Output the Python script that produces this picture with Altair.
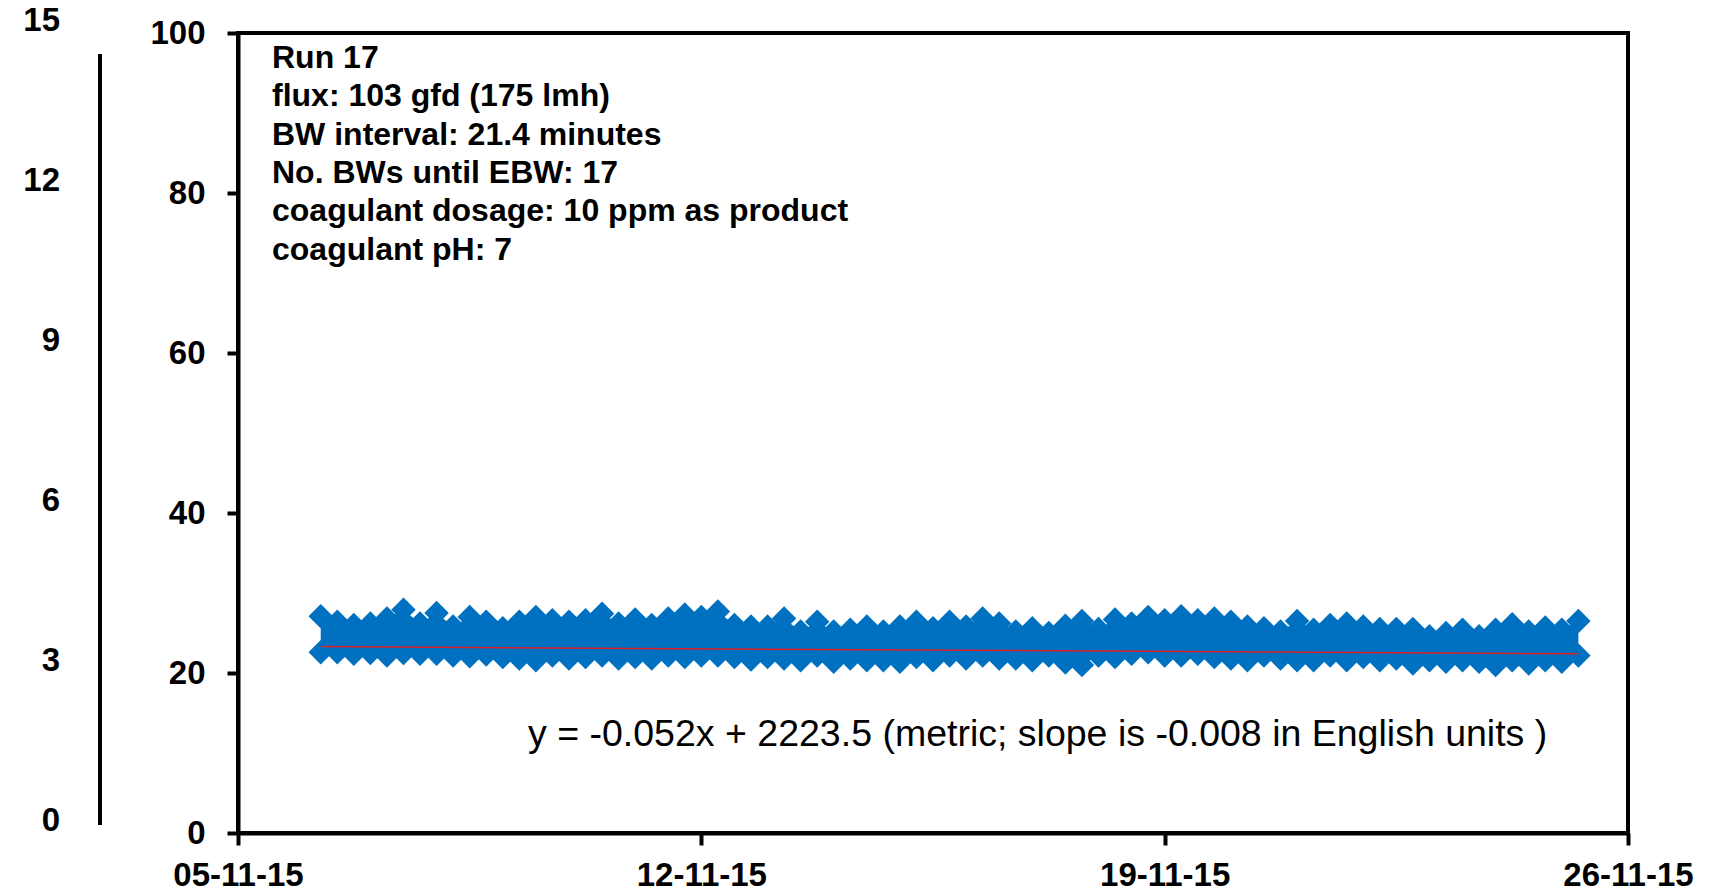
import altair as alt
import pandas as pd

# ---------------- data ----------------
start_time = "2015-11-06 06:00"          # first plotted sample (6-hour steps)
step = "6h"
upper_values = [
    27.1, 26.4, 26.0, 26.2, 26.8, 27.9, 26.2, 27.5, 25.8, 27.0,
    26.4, 25.6, 26.4, 27.0, 26.6, 26.4, 26.6, 27.4, 26.2, 26.7,
    26.0, 26.8, 27.3, 27.0, 27.7, 26.0, 25.8, 25.8, 26.8, 25.2,
    26.4, 25.2, 25.4, 25.8, 25.2, 25.8, 26.4, 25.6, 26.4, 25.8,
    26.8, 26.2, 25.2, 25.6, 25.0, 25.9, 26.5, 25.5, 26.7, 26.2,
    27.0, 26.6, 27.1, 26.6, 26.8, 26.4, 25.8, 25.6, 25.2, 26.5,
    25.4, 26.0, 26.2, 25.8, 25.5, 25.5, 25.5, 24.6, 25.0, 25.4,
    24.6, 25.4, 26.1, 25.2, 25.7, 25.4, 26.5,
]
lower_values = [
    22.6, 22.6, 22.4, 22.5, 22.2, 22.5, 22.4, 22.4, 22.2, 22.1,
    22.3, 22.0, 21.8, 21.6, 22.2, 21.8, 22.0, 22.2, 21.8, 22.0,
    21.8, 22.2, 22.0, 22.2, 22.2, 22.0, 21.7, 22.0, 21.8, 21.6,
    22.2, 21.4, 21.8, 21.6, 21.6, 21.4, 22.0, 21.6, 22.2, 21.8,
    22.2, 21.8, 21.8, 21.6, 22.2, 21.3, 21.0, 22.2, 22.0, 22.4,
    22.6, 22.2, 22.2, 22.4, 22.0, 21.8, 21.6, 22.2, 21.8, 21.6,
    21.6, 22.2, 21.6, 22.0, 21.6, 21.8, 21.2, 21.6, 21.4, 21.6,
    21.4, 21.0, 21.6, 21.2, 21.6, 21.4, 22.2,
]
trend_times = ["2015-11-06 06:00", "2015-11-25 06:00"]
trend_values = [23.3, 22.4]

x_origin = "2015-11-05"
x_tick_days = [0, 7, 14, 21]
x_tick_labels = ["05-11-15", "12-11-15", "19-11-15", "26-11-15"]
y_ticks = [0, 20, 40, 60, 80, 100]
sec_ticks = [0, 3, 6, 9, 12, 15]

info_lines = [
    "Run 17",
    "flux: 103 gfd (175 lmh)",
    "BW interval: 21.4 minutes",
    "No. BWs until EBW: 17",
    "coagulant dosage: 10 ppm as product",
    "coagulant pH: 7",
]
equation = "y = -0.052x + 2223.5 (metric; slope is -0.008 in English units )"

# ---------------- tables ----------------
times = pd.date_range(start_time, periods=len(upper_values), freq=step)
day = (times - pd.Timestamp(x_origin)) / pd.Timedelta(days=1)
df = pd.DataFrame({"day": day, "upper": upper_values, "lower": lower_values})
trend_df = pd.DataFrame({
    "day": (pd.to_datetime(trend_times) - pd.Timestamp(x_origin)) / pd.Timedelta(days=1),
    "value": trend_values,
})
one = pd.DataFrame({"a": [0]})

BLUE = "#0070C0"
FONT = "Liberation Sans"
label_array = "[" + ",".join("'%s'" % s for s in x_tick_labels) + "]"

x_axis = alt.Axis(
    values=x_tick_days, labelExpr=label_array + "[round(datum.value/7)]",
    title=None, grid=False, labelFlush=False, labelOverlap=False,
    domainWidth=4, domainColor="black", tickWidth=4, tickColor="black", tickSize=12,
    labelFontSize=33, labelFont=FONT, labelFontWeight="bold", labelColor="black",
    labelPadding=14,
)
y_axis = alt.Axis(
    values=y_ticks, title=None, grid=False,
    domainWidth=4, domainColor="black", tickWidth=4, tickColor="black", tickSize=11,
    labelFontSize=33, labelFont=FONT, labelFontWeight="bold", labelColor="black",
    labelPadding=22,
)
x_enc = alt.X("day:Q", scale=alt.Scale(domain=[0, 21], nice=False, zero=False), axis=x_axis)
y_scale = alt.Scale(domain=[0, 100], nice=False)

band = alt.Chart(df).mark_area(color=BLUE, opacity=1).encode(
    x=x_enc,
    y=alt.Y("upper:Q", scale=y_scale, axis=y_axis),
    y2="lower:Q",
)
points = alt.Chart(df).transform_fold(["upper", "lower"], as_=["edge", "value"]).mark_point(
    shape="diamond", filled=True, size=600, color=BLUE, opacity=1
).encode(
    x=x_enc,
    y=alt.Y("value:Q", scale=y_scale, axis=y_axis),
)
trend = alt.Chart(trend_df).mark_line(color="#E3202A", strokeWidth=1.5).encode(
    x=x_enc,
    y=alt.Y("value:Q", scale=y_scale, axis=y_axis),
)
info = alt.Chart(one).mark_text(
    align="left", baseline="alphabetic", font=FONT, fontSize=32, fontWeight="bold",
    lineHeight=38.3, color="black",
).encode(text=alt.value(info_lines), x=alt.value(34), y=alt.value(35))
eq = alt.Chart(one).mark_text(
    align="left", baseline="alphabetic", font=FONT, fontSize=37.5, color="black",
).encode(text=alt.value(equation), x=alt.value(290), y=alt.value(713))

main = alt.layer(band, points, trend, info, eq)

# secondary (left-most) axis: labels only, plus its vertical line
sec = alt.Chart(pd.DataFrame({"v": sec_ticks})).mark_point(opacity=0).encode(
    y=alt.Y("v:Q", scale=alt.Scale(domain=[0, 15], nice=False),
            axis=alt.Axis(orient="left", offset=126, translate=-12, values=sec_ticks,
                          title=None, grid=False, domain=False,
                          ticks=False, tickSize=0,
                          labelFontSize=33, labelFont=FONT, labelFontWeight="bold",
                          labelColor="black", labelPadding=40)),
)
sec_line = alt.Chart(one).mark_rule(color="black", strokeWidth=4).encode(
    x=alt.value(-138), y=alt.value(21), y2=alt.value(792)
)

chart = alt.layer(main, sec, sec_line).resolve_scale(y="independent").properties(
    width=1390, height=800,
    background="white",
    autosize=alt.AutoSizeParams(type="none"),
    padding={"left": 238, "top": 33, "right": 88, "bottom": 59},
).configure_view(stroke="black", strokeWidth=4)

chart.save("out.html", embed_options={"renderer": "svg", "actions": False})
